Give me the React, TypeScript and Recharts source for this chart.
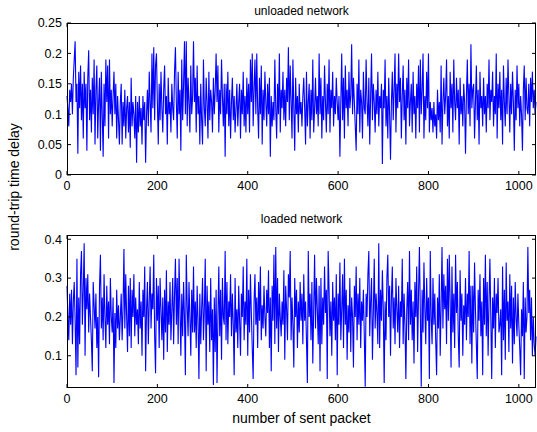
import React from "react";
import { LineChart, Line, XAxis, YAxis } from "recharts";

// round-trip delay, every 2nd packet
const STEP = 2;
const unloadedDelay = [
  0.13, 0.11, 0.08, 0.14, 0.12, 0.15, 0.1, 0.16, 0.19, 0.22,
  0.12, 0.15, 0.035, 0.17, 0.11, 0.18, 0.09, 0.15, 0.06, 0.17,
  0.11, 0.15, 0.04, 0.16, 0.205, 0.09, 0.14, 0.07, 0.16, 0.1,
  0.19, 0.05, 0.14, 0.18, 0.06, 0.12, 0.16, 0.04, 0.17, 0.1,
  0.03, 0.15, 0.08, 0.19, 0.12, 0.18, 0.06, 0.19, 0.1, 0.14,
  0.08, 0.13, 0.17, 0.1, 0.15, 0.06, 0.13, 0.09, 0.05, 0.12,
  0.15, 0.05, 0.12, 0.08, 0.14, 0.06, 0.11, 0.13, 0.07, 0.12,
  0.045, 0.16, 0.08, 0.12, 0.1, 0.06, 0.13, 0.02, 0.12, 0.07,
  0.13, 0.08, 0.11, 0.05, 0.13, 0.09, 0.12, 0.02, 0.1, 0.14,
  0.08, 0.17, 0.12, 0.07, 0.2, 0.11, 0.21, 0.09, 0.18, 0.2,
  0.12, 0.05, 0.15, 0.09, 0.17, 0.11, 0.07, 0.14, 0.18, 0.1,
  0.13, 0.05, 0.16, 0.1, 0.12, 0.07, 0.15, 0.11, 0.09, 0.17,
  0.21, 0.12, 0.06, 0.17, 0.1, 0.14, 0.04, 0.19, 0.09, 0.15,
  0.22, 0.1, 0.22, 0.08, 0.16, 0.12, 0.07, 0.18, 0.1, 0.13,
  0.22, 0.12, 0.16, 0.07, 0.18, 0.1, 0.13, 0.05, 0.15, 0.09,
  0.05, 0.19, 0.11, 0.08, 0.16, 0.12, 0.06, 0.17, 0.09, 0.14,
  0.12, 0.07, 0.16, 0.1, 0.14, 0.2, 0.12, 0.18, 0.07, 0.14,
  0.1, 0.19, 0.13, 0.08, 0.15, 0.03, 0.15, 0.1, 0.17, 0.08,
  0.14, 0.06, 0.12, 0.16, 0.09, 0.13, 0.07, 0.11, 0.15, 0.08,
  0.12, 0.15, 0.06, 0.14, 0.1, 0.17, 0.08, 0.13, 0.07, 0.16,
  0.1, 0.15, 0.07, 0.19, 0.12, 0.2, 0.08, 0.14, 0.19, 0.1,
  0.2, 0.11, 0.06, 0.16, 0.1, 0.18, 0.05, 0.14, 0.09, 0.17,
  0.12, 0.08, 0.15, 0.1, 0.16, 0.03, 0.13, 0.08, 0.12, 0.09,
  0.19, 0.11, 0.06, 0.15, 0.1, 0.2, 0.07, 0.14, 0.11, 0.17,
  0.09, 0.14, 0.08, 0.16, 0.12, 0.21, 0.09, 0.18, 0.12, 0.06,
  0.19, 0.11, 0.04, 0.16, 0.1, 0.13, 0.07, 0.15, 0.1, 0.12,
  0.08, 0.13, 0.16, 0.11, 0.05, 0.17, 0.08, 0.12, 0.15, 0.06,
  0.14, 0.09, 0.19, 0.07, 0.11, 0.16, 0.1, 0.13, 0.08, 0.2,
  0.1, 0.16, 0.06, 0.13, 0.09, 0.18, 0.12, 0.07, 0.15, 0.1,
  0.19, 0.07, 0.14, 0.11, 0.17, 0.08, 0.13, 0.1, 0.16, 0.12,
  0.09, 0.13, 0.03, 0.12, 0.2, 0.09, 0.16, 0.06, 0.18, 0.11,
  0.14, 0.08, 0.17, 0.11, 0.13, 0.215, 0.1, 0.16, 0.12, 0.08,
  0.04, 0.15, 0.1, 0.19, 0.07, 0.14, 0.12, 0.06, 0.17, 0.11,
  0.1, 0.19, 0.12, 0.08, 0.16, 0.05, 0.13, 0.2, 0.09, 0.15,
  0.12, 0.07, 0.14, 0.1, 0.17, 0.08, 0.13, 0.11, 0.15, 0.018,
  0.14, 0.11, 0.19, 0.08, 0.13, 0.06, 0.16, 0.1, 0.025, 0.12,
  0.17, 0.09, 0.14, 0.2, 0.07, 0.15, 0.11, 0.2, 0.12, 0.16,
  0.06, 0.13, 0.18, 0.09, 0.14, 0.05, 0.16, 0.11, 0.19, 0.08,
  0.12, 0.15, 0.07, 0.17, 0.1, 0.13, 0.06, 0.15, 0.11, 0.18,
  0.07, 0.19, 0.1, 0.14, 0.2, 0.06, 0.13, 0.09, 0.17, 0.11,
  0.2, 0.07, 0.12, 0.09, 0.11, 0.07, 0.12, 0.08, 0.1, 0.06,
  0.14, 0.09, 0.12, 0.07, 0.18, 0.05, 0.12, 0.16, 0.1, 0.13,
  0.19, 0.08, 0.13, 0.06, 0.17, 0.11, 0.15, 0.07, 0.19, 0.12,
  0.09, 0.16, 0.11, 0.14, 0.05, 0.16, 0.1, 0.13, 0.08, 0.15,
  0.12, 0.035, 0.13, 0.19, 0.1, 0.15, 0.08, 0.215, 0.11, 0.14,
  0.15, 0.06, 0.12, 0.18, 0.09, 0.14, 0.05, 0.17, 0.11, 0.13,
  0.08, 0.16, 0.1, 0.13, 0.07, 0.15, 0.11, 0.19, 0.09, 0.14,
  0.12, 0.17, 0.08, 0.13, 0.1, 0.2, 0.06, 0.15, 0.11, 0.17,
  0.09, 0.14, 0.05, 0.18, 0.12, 0.08, 0.16, 0.1, 0.19, 0.13,
  0.07, 0.15, 0.1, 0.17, 0.12, 0.04, 0.14, 0.09, 0.18, 0.11,
  0.15, 0.08, 0.13, 0.1, 0.04, 0.14, 0.18, 0.09, 0.16, 0.11,
  0.1, 0.15, 0.08, 0.16, 0.12, 0.17, 0.11, 0.14, 0.1, 0.12,
];
const loadedDelay = [
  0.28, 0.2, 0.14, 0.26, 0.18, 0.27, 0.13, 0.24, 0.29, 0.19,
  0.05, 0.35, 0.07, 0.25, 0.13, 0.31, 0.37, 0.18, 0.27, 0.39,
  0.1, 0.3, 0.22, 0.31, 0.16, 0.26, 0.2, 0.14, 0.06, 0.29,
  0.23, 0.17, 0.26, 0.12, 0.2, 0.045, 0.28, 0.36, 0.17, 0.25,
  0.14, 0.31, 0.2, 0.12, 0.28, 0.18, 0.24, 0.13, 0.3, 0.2,
  0.16, 0.25, 0.03, 0.21, 0.12, 0.27, 0.17, 0.23, 0.14, 0.2,
  0.26, 0.14, 0.22, 0.375, 0.17, 0.31, 0.2, 0.11, 0.28, 0.15,
  0.3, 0.12, 0.27, 0.2, 0.31, 0.15, 0.25, 0.18, 0.22, 0.13,
  0.29, 0.17, 0.24, 0.1, 0.27, 0.2, 0.33, 0.06, 0.22, 0.29,
  0.13, 0.24, 0.33, 0.17, 0.26, 0.22, 0.36, 0.15, 0.055, 0.3,
  0.19, 0.28, 0.12, 0.3, 0.22, 0.14, 0.25, 0.09, 0.27, 0.16,
  0.32, 0.11, 0.24, 0.18, 0.29, 0.14, 0.22, 0.3, 0.13, 0.26,
  0.35, 0.18, 0.3, 0.13, 0.35, 0.22, 0.1, 0.26, 0.15, 0.29,
  0.2, 0.05, 0.36, 0.23, 0.15, 0.29, 0.2, 0.1, 0.27, 0.16,
  0.33, 0.16, 0.24, 0.12, 0.28, 0.19, 0.04, 0.26, 0.13, 0.22,
  0.3, 0.14, 0.22, 0.35, 0.06, 0.28, 0.18, 0.24, 0.11, 0.3,
  0.14, 0.22, 0.025, 0.25, 0.11, 0.27, 0.03, 0.2, 0.33, 0.15,
  0.27, 0.09, 0.3, 0.2, 0.18, 0.37, 0.14, 0.29, 0.13, 0.24,
  0.2, 0.31, 0.15, 0.26, 0.18, 0.05, 0.3, 0.16, 0.22, 0.12,
  0.28, 0.19, 0.1, 0.26, 0.2, 0.33, 0.14, 0.24, 0.18, 0.35,
  0.1, 0.27, 0.16, 0.31, 0.21, 0.12, 0.04, 0.24, 0.31, 0.18,
  0.25, 0.12, 0.29, 0.19, 0.33, 0.14, 0.23, 0.17, 0.28, 0.2,
  0.15, 0.27, 0.21, 0.32, 0.12, 0.25, 0.06, 0.28, 0.19, 0.36,
  0.13, 0.38, 0.17, 0.3, 0.11, 0.26, 0.2, 0.15, 0.24, 0.18,
  0.32, 0.09, 0.28, 0.22, 0.14, 0.31, 0.25, 0.37, 0.14, 0.25,
  0.18, 0.07, 0.3, 0.2, 0.27, 0.12, 0.24, 0.16, 0.29, 0.19,
  0.26, 0.13, 0.31, 0.19, 0.24, 0.14, 0.03, 0.37, 0.2, 0.26,
  0.14, 0.29, 0.08, 0.22, 0.36, 0.17, 0.3, 0.22, 0.13, 0.28,
  0.06, 0.3, 0.13, 0.25, 0.18, 0.33, 0.21, 0.27, 0.04, 0.37,
  0.27, 0.15, 0.24, 0.1, 0.29, 0.19, 0.25, 0.14, 0.31, 0.05,
  0.26, 0.18, 0.34, 0.14, 0.22, 0.31, 0.12, 0.35, 0.18, 0.27,
  0.09, 0.23, 0.16, 0.3, 0.11, 0.25, 0.2, 0.07, 0.28, 0.2,
  0.33, 0.14, 0.26, 0.18, 0.3, 0.12, 0.24, 0.19, 0.27, 0.15,
  0.02, 0.26, 0.2, 0.31, 0.37, 0.15, 0.24, 0.3, 0.09, 0.21,
  0.35, 0.17, 0.26, 0.21, 0.13, 0.39, 0.12, 0.27, 0.19, 0.32,
  0.22, 0.03, 0.24, 0.14, 0.3, 0.36, 0.2, 0.28, 0.1, 0.25,
  0.33, 0.17, 0.25, 0.13, 0.3, 0.22, 0.16, 0.28, 0.12, 0.24,
  0.2, 0.35, 0.13, 0.26, 0.18, 0.04, 0.22, 0.29, 0.14, 0.37,
  0.18, 0.27, 0.14, 0.24, 0.08, 0.29, 0.2, 0.33, 0.11, 0.26,
  0.38, 0.21, 0.02, 0.27, 0.16, 0.34, 0.22, 0.13, 0.3, 0.19,
  0.25, 0.04, 0.37, 0.2, 0.13, 0.3, 0.18, 0.26, 0.14, 0.05,
  0.25, 0.17, 0.31, 0.1, 0.23, 0.38, 0.17, 0.31, 0.22, 0.28,
  0.13, 0.35, 0.19, 0.36, 0.24, 0.07, 0.33, 0.16, 0.26, 0.12,
  0.36, 0.21, 0.29, 0.15, 0.07, 0.32, 0.19, 0.26, 0.1, 0.23,
  0.18, 0.3, 0.14, 0.26, 0.2, 0.37, 0.13, 0.28, 0.08, 0.28,
  0.16, 0.34, 0.22, 0.13, 0.04, 0.27, 0.19, 0.31, 0.15, 0.24,
  0.05, 0.3, 0.18, 0.36, 0.15, 0.29, 0.1, 0.24, 0.35, 0.2,
  0.04, 0.25, 0.17, 0.3, 0.12, 0.26, 0.21, 0.3, 0.16, 0.18,
  0.22, 0.05, 0.33, 0.14, 0.27, 0.09, 0.34, 0.19, 0.24, 0.11,
  0.31, 0.17, 0.28, 0.08, 0.25, 0.13, 0.29, 0.2, 0.15, 0.26,
  0.18, 0.12, 0.05, 0.22, 0.15, 0.29, 0.04, 0.25, 0.16, 0.2,
  0.38, 0.21, 0.27, 0.14, 0.25, 0.1, 0.2, 0.13, 0.1, 0.15,
];

const xTicks = [0, 200, 400, 600, 800, 1000];
const unloadedTicks = [0, 0.05, 0.1, 0.15, 0.2, 0.25];
const loadedTicks = [0.1, 0.2, 0.3, 0.4];

const FONT = "'Liberation Sans', Arial, Helvetica, sans-serif";
const W = 537;
const LEFT = 67;
const RIGHT = 536;
const TICK = 4;

const toRows = (vals: number[]) => vals.map((v, i) => ({ n: i * STEP, v }));

function Panel({
  top,
  height,
  plotTop,
  plotBottom,
  data,
  yDomain,
  yTicks,
}: {
  top: number;
  height: number;
  plotTop: number;
  plotBottom: number;
  data: { n: number; v: number }[];
  yDomain: [number, number];
  yTicks: number[];
}) {
  const xAxisH = top + height - plotBottom;
  const YTick = (p: any) => (
    <g>
      <text x={p.x} y={p.y} dy="0.35em" textAnchor="end" fontSize={12.5} fontFamily={FONT} fill="#000">
        {p.payload.value}
      </text>
      <line x1={LEFT} x2={LEFT + TICK} y1={p.y} y2={p.y} stroke="#000" />
      <line x1={RIGHT - TICK} x2={RIGHT} y1={p.y} y2={p.y} stroke="#000" />
    </g>
  );
  const XTick = (p: any) => (
    <g>
      <text x={p.x} y={p.y} dy="0.71em" textAnchor="middle" fontSize={12.5} fontFamily={FONT} fill="#000">
        {p.payload.value}
      </text>
      <line x1={p.x} x2={p.x} y1={plotBottom - top - TICK} y2={plotBottom - top} stroke="#000" />
      <line x1={p.x} x2={p.x} y1={plotTop - top} y2={plotTop - top + TICK} stroke="#000" />
    </g>
  );
  return (
    <div style={{ position: "absolute", left: 0, top, width: W, height }}>
      <LineChart
        width={W}
        height={height}
        data={data}
        margin={{ top: plotTop - top, right: W - RIGHT, left: 0, bottom: 0 }}
      >
        <XAxis
          dataKey="n"
          type="number"
          domain={[0, 1038]}
          ticks={xTicks}
          height={xAxisH}
          tickSize={0}
          tickMargin={6}
          axisLine={false}
          tick={XTick}
          interval={0}
        />
        <YAxis
          type="number"
          domain={yDomain}
          ticks={yTicks}
          width={LEFT}
          tickSize={0}
          tickMargin={5}
          axisLine={false}
          tick={YTick}
          interval={0}
          allowDataOverflow
        />
        <Line
          dataKey="v"
          stroke="#0000ff"
          strokeWidth={1.1}
          dot={false}
          isAnimationActive={false}
        />
      </LineChart>
      <div
        style={{
          position: "absolute",
          left: LEFT,
          top: plotTop - top,
          width: RIGHT - LEFT,
          height: plotBottom - plotTop,
          border: "1px solid #000",
          boxSizing: "border-box",
          pointerEvents: "none",
          marginLeft: -0.5,
        }}
      />
    </div>
  );
}

export default function App() {
  const label: React.CSSProperties = {
    position: "absolute",
    fontFamily: FONT,
    fontSize: 12,
    color: "#000",
    whiteSpace: "nowrap",
  };
  return (
    <div style={{ position: "absolute", left: 0, top: 0, width: W, height: 432, background: "#fff" }}>
      <Panel
        top={0}
        height={200}
        plotTop={23}
        plotBottom={175}
        data={toRows(unloadedDelay)}
        yDomain={[0, 0.25]}
        yTicks={unloadedTicks}
      />
      <Panel
        top={205}
        height={227}
        plotTop={235}
        plotBottom={388}
        data={toRows(loadedDelay)}
        yDomain={[0.017, 0.411]}
        yTicks={loadedTicks}
      />
      <div style={{ ...label, left: LEFT, width: RIGHT - LEFT, top: 4, textAlign: "center" }}>
        unloaded network
      </div>
      <div style={{ ...label, left: LEFT, width: RIGHT - LEFT, top: 212, textAlign: "center" }}>
        loaded network
      </div>
      <div style={{ ...label, fontSize: 14, left: LEFT, width: RIGHT - LEFT, top: 410, textAlign: "center" }}>
        number of sent packet
      </div>
      <div
        style={{
          ...label,
          fontSize: 14,
          left: 14,
          top: 187,
          transform: "translate(-50%, -50%) rotate(-90deg)",
        }}
      >
        round-trip time delay
      </div>
    </div>
  );
}
